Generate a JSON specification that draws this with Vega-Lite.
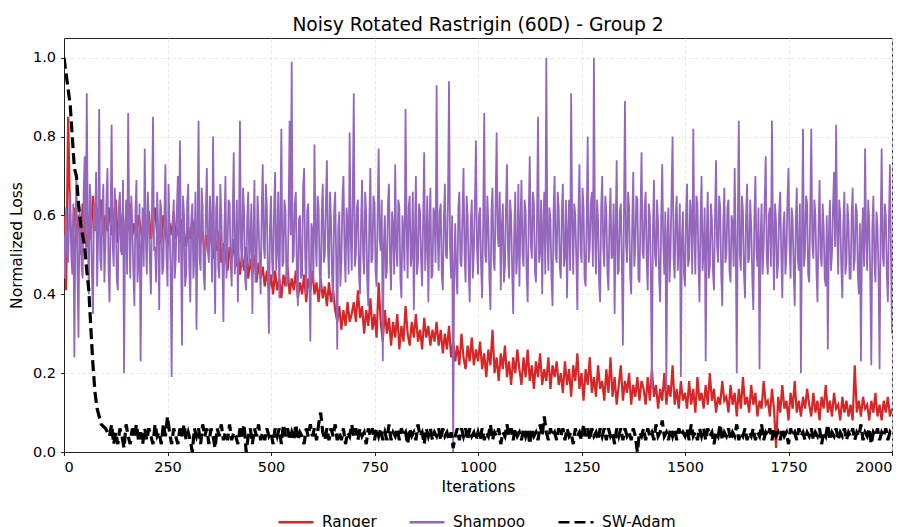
{
"$schema": "https://vega.github.io/schema/vega-lite/v6.json",
"width": 828, "height": 414,
"autosize": "none",
"padding": {"left": 64, "top": 38, "right": 20, "bottom": 75},
"title": {"text": "Noisy Rotated Rastrigin (60D) - Group 2", "fontSize": 18.7, "font": "DejaVu Sans", "fontWeight": "normal", "color": "#000", "offset": 3},
"config": {
 "font": "DejaVu Sans",
 "view": {"stroke": "#222", "strokeWidth": 1},
 "axis": {"labelFont": "DejaVu Sans", "titleFont": "DejaVu Sans", "labelFontSize": 14.5, "titleFontSize": 15.5, "titleFontWeight": "normal", "labelColor": "#000", "titleColor": "#000", "tickColor": "#222", "domainColor": "#222", "tickSize": 3.5, "labelPadding": 4.5, "grid": true, "gridColor": "#e4e4e4", "gridDash": [4, 2], "gridWidth": 0.8},
 "legend": {"labelFont": "DejaVu Sans", "labelFontSize": 15.3, "labelColor": "#000"}
},
"datasets": {
"ra": [
{"x":0,"r":0.60,"a":1.00},{"x":5,"r":0.41,"a":0.96},{"x":10,"r":0.85,"a":0.92},{"x":15,"r":0.58,"a":0.88},{"x":20,"r":0.52,"a":0.80},{"x":25,"r":0.62,"a":0.72},{"x":30,"r":0.55,"a":0.70},{"x":35,"r":0.60,"a":0.63},{"x":40,"r":0.50,"a":0.58},{"x":45,"r":0.63,"a":0.55},{"x":50,"r":0.56,"a":0.52},{"x":55,"r":0.52,"a":0.46},{"x":60,"r":0.60,"a":0.41},{"x":65,"r":0.54,"a":0.31},{"x":70,"r":0.65,"a":0.22},{"x":75,"r":0.57,"a":0.15},{"x":80,"r":0.62,"a":0.11},{"x":85,"r":0.58,"a":0.09},{"x":90,"r":0.64,"a":0.07},{"x":95,"r":0.55,"a":0.065},
{"x":100,"r":0.60,"a":0.06},{"x":105,"r":0.56,"a":0.05},{"x":110,"r":0.62,"a":0.04},{"x":115,"r":0.55,"a":0.07},{"x":120,"r":0.59,"a":0.02},{"x":125,"r":0.64,"a":0.05},{"x":130,"r":0.53,"a":0.02},{"x":135,"r":0.61,"a":0.06},{"x":140,"r":0.57,"a":0.04},{"x":145,"r":0.52,"a":0.01},{"x":150,"r":0.60,"a":0.07},{"x":155,"r":0.56,"a":0.04},{"x":160,"r":0.63,"a":0.02},{"x":165,"r":0.55,"a":0.06},{"x":170,"r":0.58,"a":0.04},{"x":175,"r":0.54,"a":0.07},{"x":180,"r":0.60,"a":0.03},{"x":185,"r":0.57,"a":0.05},{"x":190,"r":0.53,"a":0.02},{"x":195,"r":0.59,"a":0.06},
{"x":200,"r":0.56,"a":0.03},{"x":205,"r":0.61,"a":0.06},{"x":210,"r":0.54,"a":0.04},{"x":215,"r":0.58,"a":0.02},{"x":220,"r":0.62,"a":0.07},{"x":225,"r":0.55,"a":0.04},{"x":230,"r":0.57,"a":0.05},{"x":235,"r":0.53,"a":0.02},{"x":240,"r":0.60,"a":0.07},{"x":245,"r":0.56,"a":0.04},{"x":250,"r":0.52,"a":0.09},{"x":255,"r":0.58,"a":0.05},{"x":260,"r":0.55,"a":0.02},{"x":265,"r":0.61,"a":0.06},{"x":270,"r":0.54,"a":0.04},{"x":275,"r":0.57,"a":0.02},{"x":280,"r":0.53,"a":0.06},{"x":285,"r":0.59,"a":0.04},{"x":290,"r":0.56,"a":0.07},{"x":295,"r":0.52,"a":0.03},
{"x":300,"r":0.57,"a":0.05},{"x":305,"r":0.54,"a":0.03},{"x":310,"r":0.59,"a":0.00},{"x":315,"r":0.55,"a":0.06},{"x":320,"r":0.51,"a":0.04},{"x":325,"r":0.58,"a":0.06},{"x":330,"r":0.53,"a":0.02},{"x":335,"r":0.56,"a":0.07},{"x":340,"r":0.50,"a":0.04},{"x":345,"r":0.55,"a":0.06},{"x":350,"r":0.52,"a":0.02},{"x":355,"r":0.57,"a":0.06},{"x":360,"r":0.49,"a":0.04},{"x":365,"r":0.54,"a":0.01},{"x":370,"r":0.51,"a":0.06},{"x":375,"r":0.56,"a":0.04},{"x":380,"r":0.48,"a":0.07},{"x":385,"r":0.53,"a":0.03},{"x":390,"r":0.50,"a":0.05},{"x":395,"r":0.46,"a":0.03},
{"x":400,"r":0.52,"a":0.07},{"x":405,"r":0.48,"a":0.03},{"x":410,"r":0.54,"a":0.05},{"x":415,"r":0.47,"a":0.04},{"x":420,"r":0.51,"a":0.02},{"x":425,"r":0.45,"a":0.06},{"x":430,"r":0.50,"a":0.04},{"x":435,"r":0.46,"a":0.07},{"x":440,"r":0.52,"a":0.00},{"x":445,"r":0.44,"a":0.04},{"x":450,"r":0.49,"a":0.06},{"x":455,"r":0.45,"a":0.02},{"x":460,"r":0.50,"a":0.06},{"x":465,"r":0.43,"a":0.04},{"x":470,"r":0.48,"a":0.07},{"x":475,"r":0.44,"a":0.03},{"x":480,"r":0.47,"a":0.05},{"x":485,"r":0.42,"a":0.03},{"x":490,"r":0.46,"a":0.06},{"x":495,"r":0.41,"a":0.04},
{"x":500,"r":0.45,"a":0.05},{"x":505,"r":0.40,"a":0.02},{"x":510,"r":0.46,"a":0.06},{"x":515,"r":0.41,"a":0.04},{"x":520,"r":0.44,"a":0.06},{"x":525,"r":0.39,"a":0.02},{"x":530,"r":0.45,"a":0.07},{"x":535,"r":0.42,"a":0.04},{"x":540,"r":0.47,"a":0.06},{"x":545,"r":0.40,"a":0.03},{"x":550,"r":0.44,"a":0.05},{"x":555,"r":0.41,"a":0.03},{"x":560,"r":0.46,"a":0.07},{"x":565,"r":0.39,"a":0.03},{"x":570,"r":0.43,"a":0.05},{"x":575,"r":0.40,"a":0.04},{"x":580,"r":0.45,"a":0.02},{"x":585,"r":0.38,"a":0.06},{"x":590,"r":0.44,"a":0.04},{"x":595,"r":0.41,"a":0.07},
{"x":600,"r":0.46,"a":0.04},{"x":605,"r":0.40,"a":0.06},{"x":610,"r":0.43,"a":0.03},{"x":615,"r":0.38,"a":0.07},{"x":620,"r":0.44,"a":0.10},{"x":625,"r":0.39,"a":0.05},{"x":630,"r":0.42,"a":0.03},{"x":635,"r":0.37,"a":0.06},{"x":640,"r":0.43,"a":0.03},{"x":645,"r":0.38,"a":0.06},{"x":650,"r":0.41,"a":0.04},{"x":655,"r":0.36,"a":0.07},{"x":660,"r":0.33,"a":0.03},{"x":665,"r":0.37,"a":0.05},{"x":670,"r":0.31,"a":0.03},{"x":675,"r":0.36,"a":0.06},{"x":680,"r":0.32,"a":0.02},{"x":685,"r":0.38,"a":0.05},{"x":690,"r":0.33,"a":0.04},{"x":695,"r":0.35,"a":0.07},
{"x":700,"r":0.38,"a":0.04},{"x":705,"r":0.33,"a":0.06},{"x":710,"r":0.41,"a":0.03},{"x":715,"r":0.34,"a":0.06},{"x":720,"r":0.37,"a":0.04},{"x":725,"r":0.30,"a":0.05},{"x":730,"r":0.36,"a":0.02},{"x":735,"r":0.32,"a":0.06},{"x":740,"r":0.39,"a":0.04},{"x":745,"r":0.31,"a":0.06},{"x":750,"r":0.35,"a":0.03},{"x":755,"r":0.29,"a":0.06},{"x":760,"r":0.43,"a":0.04},{"x":765,"r":0.33,"a":0.06},{"x":770,"r":0.28,"a":0.03},{"x":775,"r":0.36,"a":0.05},{"x":780,"r":0.30,"a":0.03},{"x":785,"r":0.34,"a":0.07},{"x":790,"r":0.27,"a":0.03},{"x":795,"r":0.33,"a":0.05},
{"x":800,"r":0.29,"a":0.04},{"x":805,"r":0.35,"a":0.06},{"x":810,"r":0.26,"a":0.03},{"x":815,"r":0.32,"a":0.06},{"x":820,"r":0.28,"a":0.04},{"x":825,"r":0.37,"a":0.05},{"x":830,"r":0.30,"a":0.02},{"x":835,"r":0.27,"a":0.06},{"x":840,"r":0.33,"a":0.04},{"x":845,"r":0.29,"a":0.05},{"x":850,"r":0.35,"a":0.03},{"x":855,"r":0.28,"a":0.07},{"x":860,"r":0.31,"a":0.04},{"x":865,"r":0.26,"a":0.05},{"x":870,"r":0.34,"a":0.02},{"x":875,"r":0.29,"a":0.06},{"x":880,"r":0.32,"a":0.04},{"x":885,"r":0.27,"a":0.06},{"x":890,"r":0.31,"a":0.03},{"x":895,"r":0.28,"a":0.05},
{"x":900,"r":0.33,"a":0.04},{"x":905,"r":0.27,"a":0.06},{"x":910,"r":0.31,"a":0.03},{"x":915,"r":0.25,"a":0.06},{"x":920,"r":0.30,"a":0.04},{"x":925,"r":0.26,"a":0.05},{"x":930,"r":0.32,"a":0.03},{"x":935,"r":0.24,"a":0.05},{"x":940,"r":0.28,"a":0.01},{"x":945,"r":0.23,"a":0.04},{"x":950,"r":0.27,"a":0.06},{"x":955,"r":0.22,"a":0.03},{"x":960,"r":0.30,"a":0.06},{"x":965,"r":0.24,"a":0.04},{"x":970,"r":0.21,"a":0.06},{"x":975,"r":0.27,"a":0.03},{"x":980,"r":0.23,"a":0.06},{"x":985,"r":0.29,"a":0.04},{"x":990,"r":0.22,"a":0.05},{"x":995,"r":0.26,"a":0.03},
{"x":1000,"r":0.23,"a":0.05},{"x":1005,"r":0.28,"a":0.03},{"x":1010,"r":0.21,"a":0.06},{"x":1015,"r":0.25,"a":0.03},{"x":1020,"r":0.19,"a":0.05},{"x":1025,"r":0.26,"a":0.04},{"x":1030,"r":0.22,"a":0.07},{"x":1035,"r":0.31,"a":0.03},{"x":1040,"r":0.20,"a":0.05},{"x":1045,"r":0.24,"a":0.04},{"x":1050,"r":0.18,"a":0.06},{"x":1055,"r":0.25,"a":0.02},{"x":1060,"r":0.21,"a":0.05},{"x":1065,"r":0.27,"a":0.04},{"x":1070,"r":0.19,"a":0.07},{"x":1075,"r":0.23,"a":0.04},{"x":1080,"r":0.17,"a":0.06},{"x":1085,"r":0.24,"a":0.03},{"x":1090,"r":0.20,"a":0.06},{"x":1095,"r":0.26,"a":0.04},
{"x":1100,"r":0.21,"a":0.05},{"x":1105,"r":0.17,"a":0.03},{"x":1110,"r":0.24,"a":0.06},{"x":1115,"r":0.19,"a":0.04},{"x":1120,"r":0.26,"a":0.06},{"x":1125,"r":0.18,"a":0.02},{"x":1130,"r":0.22,"a":0.06},{"x":1135,"r":0.16,"a":0.04},{"x":1140,"r":0.23,"a":0.05},{"x":1145,"r":0.19,"a":0.03},{"x":1150,"r":0.25,"a":0.07},{"x":1155,"r":0.17,"a":0.04},{"x":1160,"r":0.21,"a":0.09},{"x":1165,"r":0.18,"a":0.05},{"x":1170,"r":0.24,"a":0.03},{"x":1175,"r":0.16,"a":0.06},{"x":1180,"r":0.22,"a":0.04},{"x":1185,"r":0.19,"a":0.05},{"x":1190,"r":0.23,"a":0.03},{"x":1195,"r":0.17,"a":0.06},
{"x":1200,"r":0.20,"a":0.04},{"x":1205,"r":0.15,"a":0.06},{"x":1210,"r":0.23,"a":0.03},{"x":1215,"r":0.17,"a":0.06},{"x":1220,"r":0.21,"a":0.04},{"x":1225,"r":0.14,"a":0.05},{"x":1230,"r":0.22,"a":0.02},{"x":1235,"r":0.18,"a":0.06},{"x":1240,"r":0.25,"a":0.04},{"x":1245,"r":0.16,"a":0.05},{"x":1250,"r":0.20,"a":0.03},{"x":1255,"r":0.13,"a":0.07},{"x":1260,"r":0.21,"a":0.04},{"x":1265,"r":0.17,"a":0.06},{"x":1270,"r":0.24,"a":0.03},{"x":1275,"r":0.15,"a":0.06},{"x":1280,"r":0.19,"a":0.04},{"x":1285,"r":0.14,"a":0.05},{"x":1290,"r":0.22,"a":0.03},{"x":1295,"r":0.16,"a":0.06},
{"x":1300,"r":0.18,"a":0.04},{"x":1305,"r":0.13,"a":0.06},{"x":1310,"r":0.21,"a":0.03},{"x":1315,"r":0.15,"a":0.06},{"x":1320,"r":0.24,"a":0.04},{"x":1325,"r":0.14,"a":0.05},{"x":1330,"r":0.19,"a":0.02},{"x":1335,"r":0.12,"a":0.06},{"x":1340,"r":0.17,"a":0.04},{"x":1345,"r":0.22,"a":0.06},{"x":1350,"r":0.13,"a":0.03},{"x":1355,"r":0.18,"a":0.06},{"x":1360,"r":0.15,"a":0.04},{"x":1365,"r":0.20,"a":0.05},{"x":1370,"r":0.12,"a":0.03},{"x":1375,"r":0.17,"a":0.06},{"x":1380,"r":0.14,"a":0.04},{"x":1385,"r":0.19,"a":0.00},{"x":1390,"r":0.13,"a":0.05},{"x":1395,"r":0.18,"a":0.04},
{"x":1400,"r":0.16,"a":0.06},{"x":1405,"r":0.12,"a":0.03},{"x":1410,"r":0.19,"a":0.06},{"x":1415,"r":0.13,"a":0.04},{"x":1420,"r":0.21,"a":0.05},{"x":1425,"r":0.14,"a":0.03},{"x":1430,"r":0.17,"a":0.07},{"x":1435,"r":0.11,"a":0.04},{"x":1440,"r":0.16,"a":0.05},{"x":1445,"r":0.13,"a":0.08},{"x":1450,"r":0.20,"a":0.04},{"x":1455,"r":0.12,"a":0.05},{"x":1460,"r":0.17,"a":0.03},{"x":1465,"r":0.14,"a":0.06},{"x":1470,"r":0.22,"a":0.04},{"x":1475,"r":0.12,"a":0.06},{"x":1480,"r":0.16,"a":0.03},{"x":1485,"r":0.11,"a":0.06},{"x":1490,"r":0.18,"a":0.04},{"x":1495,"r":0.13,"a":0.05},
{"x":1500,"r":0.15,"a":0.04},{"x":1505,"r":0.11,"a":0.06},{"x":1510,"r":0.18,"a":0.03},{"x":1515,"r":0.12,"a":0.07},{"x":1520,"r":0.16,"a":0.04},{"x":1525,"r":0.10,"a":0.05},{"x":1530,"r":0.19,"a":0.03},{"x":1535,"r":0.13,"a":0.06},{"x":1540,"r":0.15,"a":0.04},{"x":1545,"r":0.11,"a":0.06},{"x":1550,"r":0.17,"a":0.03},{"x":1555,"r":0.12,"a":0.06},{"x":1560,"r":0.20,"a":0.04},{"x":1565,"r":0.13,"a":0.05},{"x":1570,"r":0.16,"a":0.02},{"x":1575,"r":0.10,"a":0.05},{"x":1580,"r":0.14,"a":0.04},{"x":1585,"r":0.12,"a":0.07},{"x":1590,"r":0.18,"a":0.03},{"x":1595,"r":0.13,"a":0.05},
{"x":1600,"r":0.14,"a":0.04},{"x":1605,"r":0.10,"a":0.06},{"x":1610,"r":0.17,"a":0.03},{"x":1615,"r":0.12,"a":0.05},{"x":1620,"r":0.15,"a":0.04},{"x":1625,"r":0.09,"a":0.07},{"x":1630,"r":0.16,"a":0.03},{"x":1635,"r":0.11,"a":0.05},{"x":1640,"r":0.19,"a":0.04},{"x":1645,"r":0.12,"a":0.06},{"x":1650,"r":0.14,"a":0.03},{"x":1655,"r":0.10,"a":0.05},{"x":1660,"r":0.17,"a":0.04},{"x":1665,"r":0.12,"a":0.06},{"x":1670,"r":0.15,"a":0.03},{"x":1675,"r":0.09,"a":0.05},{"x":1680,"r":0.13,"a":0.04},{"x":1685,"r":0.11,"a":0.07},{"x":1690,"r":0.18,"a":0.03},{"x":1695,"r":0.12,"a":0.05},
{"x":1700,"r":0.13,"a":0.04},{"x":1705,"r":0.09,"a":0.06},{"x":1710,"r":0.16,"a":0.03},{"x":1715,"r":0.11,"a":0.06},{"x":1720,"r":0.01,"a":0.04},{"x":1725,"r":0.14,"a":0.05},{"x":1730,"r":0.10,"a":0.03},{"x":1735,"r":0.17,"a":0.06},{"x":1740,"r":0.11,"a":0.04},{"x":1745,"r":0.13,"a":0.05},{"x":1750,"r":0.08,"a":0.02},{"x":1755,"r":0.15,"a":0.06},{"x":1760,"r":0.11,"a":0.04},{"x":1765,"r":0.18,"a":0.05},{"x":1770,"r":0.10,"a":0.03},{"x":1775,"r":0.13,"a":0.06},{"x":1780,"r":0.09,"a":0.04},{"x":1785,"r":0.14,"a":0.05},{"x":1790,"r":0.11,"a":0.03},{"x":1795,"r":0.16,"a":0.05},
{"x":1800,"r":0.12,"a":0.04},{"x":1805,"r":0.09,"a":0.06},{"x":1810,"r":0.15,"a":0.03},{"x":1815,"r":0.10,"a":0.05},{"x":1820,"r":0.13,"a":0.04},{"x":1825,"r":0.08,"a":0.06},{"x":1830,"r":0.14,"a":0.02},{"x":1835,"r":0.11,"a":0.05},{"x":1840,"r":0.17,"a":0.04},{"x":1845,"r":0.10,"a":0.07},{"x":1850,"r":0.13,"a":0.03},{"x":1855,"r":0.09,"a":0.05},{"x":1860,"r":0.15,"a":0.04},{"x":1865,"r":0.11,"a":0.06},{"x":1870,"r":0.12,"a":0.03},{"x":1875,"r":0.08,"a":0.05},{"x":1880,"r":0.14,"a":0.04},{"x":1885,"r":0.10,"a":0.06},{"x":1890,"r":0.13,"a":0.03},{"x":1895,"r":0.09,"a":0.05},
{"x":1900,"r":0.12,"a":0.04},{"x":1905,"r":0.08,"a":0.06},{"x":1910,"r":0.22,"a":0.03},{"x":1915,"r":0.10,"a":0.05},{"x":1920,"r":0.13,"a":0.04},{"x":1925,"r":0.09,"a":0.07},{"x":1930,"r":0.14,"a":0.03},{"x":1935,"r":0.11,"a":0.05},{"x":1940,"r":0.12,"a":0.04},{"x":1945,"r":0.08,"a":0.06},{"x":1950,"r":0.13,"a":0.02},{"x":1955,"r":0.10,"a":0.05},{"x":1960,"r":0.15,"a":0.04},{"x":1965,"r":0.09,"a":0.06},{"x":1970,"r":0.12,"a":0.03},{"x":1975,"r":0.08,"a":0.05},{"x":1980,"r":0.13,"a":0.04},{"x":1985,"r":0.10,"a":0.06},{"x":1990,"r":0.14,"a":0.03},{"x":1995,"r":0.09,"a":0.05},{"x":2000,"r":0.11,"a":0.04}
],
"sh": [
{"x":0,"p":0.55},{"x":2.5,"p":0.44},{"x":5,"p":0.62},{"x":7.5,"p":0.52},{"x":10,"p":0.48},{"x":12.5,"p":0.60},{"x":15,"p":0.66},{"x":17.5,"p":0.50},{"x":20,"p":0.45},{"x":22.5,"p":0.63},{"x":25,"p":0.24},{"x":27.5,"p":0.55},{"x":30,"p":0.70},{"x":32.5,"p":0.46},{"x":35,"p":0.29},{"x":37.5,"p":0.61},{"x":40,"p":0.58},{"x":42.5,"p":0.47},{"x":45,"p":0.44},{"x":47.5,"p":0.66},{"x":50,"p":0.75},{"x":52.5,"p":0.50},{"x":55,"p":0.91},{"x":57.5,"p":0.56},{"x":60,"p":0.40},{"x":62.5,"p":0.68},{"x":65,"p":0.62},{"x":67.5,"p":0.45},{"x":70,"p":0.35},{"x":72.5,"p":0.63},{"x":75,"p":0.56},{"x":77.5,"p":0.71},{"x":80,"p":0.42},{"x":82.5,"p":0.55},{"x":85,"p":0.87},{"x":87.5,"p":0.49},{"x":90,"p":0.46},{"x":92.5,"p":0.60},{"x":95,"p":0.68},{"x":97.5,"p":0.43},
{"x":100,"p":0.52},{"x":102.5,"p":0.64},{"x":105,"p":0.72},{"x":107.5,"p":0.47},{"x":110,"p":0.38},{"x":112.5,"p":0.59},{"x":115,"p":0.83},{"x":117.5,"p":0.53},{"x":120,"p":0.47},{"x":122.5,"p":0.67},{"x":125,"p":0.60},{"x":127.5,"p":0.44},{"x":130,"p":0.41},{"x":132.5,"p":0.62},{"x":135,"p":0.66},{"x":137.5,"p":0.51},{"x":140,"p":0.50},{"x":142.5,"p":0.69},{"x":145,"p":0.20},{"x":147.5,"p":0.55},{"x":150,"p":0.64},{"x":152.5,"p":0.45},{"x":155,"p":0.86},{"x":157.5,"p":0.58},{"x":160,"p":0.44},{"x":162.5,"p":0.65},{"x":165,"p":0.58},{"x":167.5,"p":0.46},{"x":170,"p":0.37},{"x":172.5,"p":0.61},{"x":175,"p":0.69},{"x":177.5,"p":0.43},{"x":180,"p":0.48},{"x":182.5,"p":0.63},{"x":185,"p":0.23},{"x":187.5,"p":0.52},{"x":190,"p":0.62},{"x":192.5,"p":0.47},{"x":195,"p":0.77},{"x":197.5,"p":0.55},
{"x":200,"p":0.45},{"x":202.5,"p":0.66},{"x":205,"p":0.59},{"x":207.5,"p":0.48},{"x":210,"p":0.40},{"x":212.5,"p":0.62},{"x":215,"p":0.85},{"x":217.5,"p":0.51},{"x":220,"p":0.52},{"x":222.5,"p":0.43},{"x":225,"p":0.66},{"x":227.5,"p":0.57},{"x":230,"p":0.36},{"x":232.5,"p":0.64},{"x":235,"p":0.61},{"x":237.5,"p":0.45},{"x":240,"p":0.47},{"x":242.5,"p":0.60},{"x":245,"p":0.73},{"x":247.5,"p":0.50},{"x":250,"p":0.42},{"x":252.5,"p":0.68},{"x":255,"p":0.57},{"x":257.5,"p":0.46},{"x":260,"p":0.19},{"x":262.5,"p":0.58},{"x":265,"p":0.64},{"x":267.5,"p":0.44},{"x":270,"p":0.49},{"x":272.5,"p":0.61},{"x":275,"p":0.70},{"x":277.5,"p":0.48},{"x":280,"p":0.79},{"x":282.5,"p":0.54},{"x":285,"p":0.27},{"x":287.5,"p":0.65},{"x":290,"p":0.60},{"x":292.5,"p":0.42},{"x":295,"p":0.45},{"x":297.5,"p":0.63},
{"x":300,"p":0.68},{"x":302.5,"p":0.47},{"x":305,"p":0.38},{"x":307.5,"p":0.59},{"x":310,"p":0.63},{"x":312.5,"p":0.44},{"x":315,"p":0.50},{"x":317.5,"p":0.66},{"x":320,"p":0.31},{"x":322.5,"p":0.56},{"x":325,"p":0.84},{"x":327.5,"p":0.49},{"x":330,"p":0.46},{"x":332.5,"p":0.67},{"x":335,"p":0.62},{"x":337.5,"p":0.45},{"x":340,"p":0.41},{"x":342.5,"p":0.60},{"x":345,"p":0.72},{"x":347.5,"p":0.51},{"x":350,"p":0.48},{"x":352.5,"p":0.65},{"x":355,"p":0.58},{"x":357.5,"p":0.43},{"x":360,"p":0.80},{"x":362.5,"p":0.55},{"x":365,"p":0.35},{"x":367.5,"p":0.62},{"x":370,"p":0.65},{"x":372.5,"p":0.47},{"x":375,"p":0.44},{"x":377.5,"p":0.68},{"x":380,"p":0.60},{"x":382.5,"p":0.49},{"x":385,"p":0.33},{"x":387.5,"p":0.57},{"x":390,"p":0.70},{"x":392.5,"p":0.44},{"x":395,"p":0.52},{"x":397.5,"p":0.64},
{"x":400,"p":0.63},{"x":402.5,"p":0.48},{"x":405,"p":0.42},{"x":407.5,"p":0.60},{"x":410,"p":0.76},{"x":412.5,"p":0.45},{"x":415,"p":0.50},{"x":417.5,"p":0.64},{"x":420,"p":0.38},{"x":422.5,"p":0.56},{"x":425,"p":0.84},{"x":427.5,"p":0.52},{"x":430,"p":0.47},{"x":432.5,"p":0.67},{"x":435,"p":0.61},{"x":437.5,"p":0.44},{"x":440,"p":0.41},{"x":442.5,"p":0.59},{"x":445,"p":0.66},{"x":447.5,"p":0.47},{"x":450,"p":0.53},{"x":452.5,"p":0.63},{"x":455,"p":0.35},{"x":457.5,"p":0.55},{"x":460,"p":0.69},{"x":462.5,"p":0.43},{"x":465,"p":0.46},{"x":467.5,"p":0.65},{"x":470,"p":0.58},{"x":472.5,"p":0.48},{"x":475,"p":0.40},{"x":477.5,"p":0.61},{"x":480,"p":0.73},{"x":482.5,"p":0.52},{"x":485,"p":0.49},{"x":487.5,"p":0.68},{"x":490,"p":0.62},{"x":492.5,"p":0.45},{"x":495,"p":0.30},{"x":497.5,"p":0.57},
{"x":500,"p":0.65},{"x":502.5,"p":0.49},{"x":505,"p":0.44},{"x":507.5,"p":0.62},{"x":510,"p":0.71},{"x":512.5,"p":0.46},{"x":515,"p":0.52},{"x":517.5,"p":0.66},{"x":520,"p":0.39},{"x":522.5,"p":0.58},{"x":525,"p":0.82},{"x":527.5,"p":0.47},{"x":530,"p":0.48},{"x":532.5,"p":0.64},{"x":535,"p":0.61},{"x":537.5,"p":0.42},{"x":540,"p":0.43},{"x":542.5,"p":0.60},{"x":545,"p":0.84},{"x":547.5,"p":0.55},{"x":550,"p":0.99},{"x":552.5,"p":0.48},{"x":555,"p":0.50},{"x":557.5,"p":0.63},{"x":560,"p":0.66},{"x":562.5,"p":0.45},{"x":565,"p":0.37},{"x":567.5,"p":0.59},{"x":570,"p":0.60},{"x":572.5,"p":0.44},{"x":575,"p":0.45},{"x":577.5,"p":0.67},{"x":580,"p":0.72},{"x":582.5,"p":0.50},{"x":585,"p":0.40},{"x":587.5,"p":0.61},{"x":590,"p":0.63},{"x":592.5,"p":0.46},{"x":595,"p":0.28},{"x":597.5,"p":0.58},
{"x":600,"p":0.56},{"x":602.5,"p":0.43},{"x":605,"p":0.78},{"x":607.5,"p":0.55},{"x":610,"p":0.47},{"x":612.5,"p":0.65},{"x":615,"p":0.62},{"x":617.5,"p":0.46},{"x":620,"p":0.41},{"x":622.5,"p":0.60},{"x":625,"p":0.68},{"x":627.5,"p":0.48},{"x":630,"p":0.50},{"x":632.5,"p":0.63},{"x":635,"p":0.74},{"x":637.5,"p":0.52},{"x":640,"p":0.44},{"x":642.5,"p":0.66},{"x":645,"p":0.59},{"x":647.5,"p":0.45},{"x":650,"p":0.38},{"x":652.5,"p":0.61},{"x":655,"p":0.66},{"x":657.5,"p":0.49},{"x":660,"p":0.26},{"x":662.5,"p":0.57},{"x":665,"p":0.61},{"x":667.5,"p":0.42},{"x":670,"p":0.48},{"x":672.5,"p":0.64},{"x":675,"p":0.70},{"x":677.5,"p":0.51},{"x":680,"p":0.43},{"x":682.5,"p":0.62},{"x":685,"p":0.58},{"x":687.5,"p":0.45},{"x":690,"p":0.81},{"x":692.5,"p":0.55},{"x":695,"p":0.46},{"x":697.5,"p":0.65},
{"x":700,"p":0.91},{"x":702.5,"p":0.47},{"x":705,"p":0.50},{"x":707.5,"p":0.62},{"x":710,"p":0.64},{"x":712.5,"p":0.45},{"x":715,"p":0.40},{"x":717.5,"p":0.58},{"x":720,"p":0.69},{"x":722.5,"p":0.50},{"x":725,"p":0.45},{"x":727.5,"p":0.66},{"x":730,"p":0.60},{"x":732.5,"p":0.43},{"x":735,"p":0.37},{"x":737.5,"p":0.59},{"x":740,"p":0.72},{"x":742.5,"p":0.48},{"x":745,"p":0.49},{"x":747.5,"p":0.65},{"x":750,"p":0.63},{"x":752.5,"p":0.46},{"x":755,"p":0.42},{"x":757.5,"p":0.60},{"x":760,"p":0.77},{"x":762.5,"p":0.54},{"x":765,"p":0.51},{"x":767.5,"p":0.64},{"x":770,"p":0.23},{"x":772.5,"p":0.52},{"x":775,"p":0.60},{"x":777.5,"p":0.44},{"x":780,"p":0.46},{"x":782.5,"p":0.63},{"x":785,"p":0.68},{"x":787.5,"p":0.49},{"x":790,"p":0.41},{"x":792.5,"p":0.61},{"x":795,"p":0.57},{"x":797.5,"p":0.45},
{"x":800,"p":0.73},{"x":802.5,"p":0.52},{"x":805,"p":0.47},{"x":807.5,"p":0.64},{"x":810,"p":0.62},{"x":812.5,"p":0.44},{"x":815,"p":0.39},{"x":817.5,"p":0.60},{"x":820,"p":0.55},{"x":822.5,"p":0.46},{"x":825,"p":0.87},{"x":827.5,"p":0.58},{"x":830,"p":0.44},{"x":832.5,"p":0.62},{"x":835,"p":0.65},{"x":837.5,"p":0.47},{"x":840,"p":0.50},{"x":842.5,"p":0.66},{"x":845,"p":0.36},{"x":847.5,"p":0.55},{"x":850,"p":0.70},{"x":852.5,"p":0.45},{"x":855,"p":0.48},{"x":857.5,"p":0.63},{"x":860,"p":0.61},{"x":862.5,"p":0.49},{"x":865,"p":0.42},{"x":867.5,"p":0.59},{"x":870,"p":0.76},{"x":872.5,"p":0.46},{"x":875,"p":0.53},{"x":877.5,"p":0.65},{"x":880,"p":0.38},{"x":882.5,"p":0.57},{"x":885,"p":0.67},{"x":887.5,"p":0.44},{"x":890,"p":0.45},{"x":892.5,"p":0.62},{"x":895,"p":0.60},{"x":897.5,"p":0.48},
{"x":900,"p":0.93},{"x":902.5,"p":0.55},{"x":905,"p":0.46},{"x":907.5,"p":0.61},{"x":910,"p":0.63},{"x":912.5,"p":0.45},{"x":915,"p":0.41},{"x":917.5,"p":0.59},{"x":920,"p":0.68},{"x":922.5,"p":0.50},{"x":925,"p":0.49},{"x":927.5,"p":0.64},{"x":930,"p":0.94},{"x":932.5,"p":0.52},{"x":935,"p":0.44},{"x":937.5,"p":0.60},{"x":940,"p":0.00},{"x":942.5,"p":0.47},{"x":945,"p":0.58},{"x":947.5,"p":0.45},{"x":950,"p":0.40},{"x":952.5,"p":0.62},{"x":955,"p":0.66},{"x":957.5,"p":0.48},{"x":960,"p":0.47},{"x":962.5,"p":0.60},{"x":965,"p":0.72},{"x":967.5,"p":0.50},{"x":970,"p":0.43},{"x":972.5,"p":0.65},{"x":975,"p":0.60},{"x":977.5,"p":0.46},{"x":980,"p":0.38},{"x":982.5,"p":0.58},{"x":985,"p":0.64},{"x":987.5,"p":0.44},{"x":990,"p":0.51},{"x":992.5,"p":0.63},{"x":995,"p":0.79},{"x":997.5,"p":0.52},
{"x":1000,"p":0.45},{"x":1002.5,"p":0.60},{"x":1005,"p":0.62},{"x":1007.5,"p":0.47},{"x":1010,"p":0.39},{"x":1012.5,"p":0.58},{"x":1015,"p":0.86},{"x":1017.5,"p":0.50},{"x":1020,"p":0.48},{"x":1022.5,"p":0.65},{"x":1025,"p":0.58},{"x":1027.5,"p":0.44},{"x":1030,"p":0.36},{"x":1032.5,"p":0.61},{"x":1035,"p":0.67},{"x":1037.5,"p":0.49},{"x":1040,"p":0.46},{"x":1042.5,"p":0.63},{"x":1045,"p":0.81},{"x":1047.5,"p":0.55},{"x":1050,"p":0.52},{"x":1052.5,"p":0.66},{"x":1055,"p":0.41},{"x":1057.5,"p":0.57},{"x":1060,"p":0.63},{"x":1062.5,"p":0.43},{"x":1065,"p":0.47},{"x":1067.5,"p":0.62},{"x":1070,"p":0.73},{"x":1072.5,"p":0.51},{"x":1075,"p":0.44},{"x":1077.5,"p":0.64},{"x":1080,"p":0.60},{"x":1082.5,"p":0.46},{"x":1085,"p":0.35},{"x":1087.5,"p":0.56},{"x":1090,"p":0.66},{"x":1092.5,"p":0.45},{"x":1095,"p":0.50},{"x":1097.5,"p":0.68},
{"x":1100,"p":0.42},{"x":1102.5,"p":0.58},{"x":1105,"p":0.69},{"x":1107.5,"p":0.50},{"x":1110,"p":0.47},{"x":1112.5,"p":0.64},{"x":1115,"p":0.61},{"x":1117.5,"p":0.45},{"x":1120,"p":0.38},{"x":1122.5,"p":0.60},{"x":1125,"p":0.75},{"x":1127.5,"p":0.53},{"x":1130,"p":0.49},{"x":1132.5,"p":0.66},{"x":1135,"p":0.63},{"x":1137.5,"p":0.46},{"x":1140,"p":0.43},{"x":1142.5,"p":0.59},{"x":1145,"p":0.85},{"x":1147.5,"p":0.48},{"x":1150,"p":0.51},{"x":1152.5,"p":0.64},{"x":1155,"p":0.40},{"x":1157.5,"p":0.57},{"x":1160,"p":0.66},{"x":1162.5,"p":0.45},{"x":1165,"p":1.00},{"x":1167.5,"p":0.55},{"x":1170,"p":0.46},{"x":1172.5,"p":0.62},{"x":1175,"p":0.59},{"x":1177.5,"p":0.44},{"x":1180,"p":0.37},{"x":1182.5,"p":0.61},{"x":1185,"p":0.70},{"x":1187.5,"p":0.50},{"x":1190,"p":0.48},{"x":1192.5,"p":0.66},{"x":1195,"p":0.62},{"x":1197.5,"p":0.47},
{"x":1200,"p":0.44},{"x":1202.5,"p":0.61},{"x":1205,"p":0.68},{"x":1207.5,"p":0.47},{"x":1210,"p":0.50},{"x":1212.5,"p":0.64},{"x":1215,"p":0.39},{"x":1217.5,"p":0.56},{"x":1220,"p":0.64},{"x":1222.5,"p":0.46},{"x":1225,"p":0.91},{"x":1227.5,"p":0.58},{"x":1230,"p":0.45},{"x":1232.5,"p":0.63},{"x":1235,"p":0.60},{"x":1237.5,"p":0.49},{"x":1240,"p":0.36},{"x":1242.5,"p":0.60},{"x":1245,"p":0.73},{"x":1247.5,"p":0.52},{"x":1250,"p":0.48},{"x":1252.5,"p":0.67},{"x":1255,"p":0.62},{"x":1257.5,"p":0.44},{"x":1260,"p":0.42},{"x":1262.5,"p":0.59},{"x":1265,"p":0.80},{"x":1267.5,"p":0.48},{"x":1270,"p":0.52},{"x":1272.5,"p":0.63},{"x":1275,"p":0.66},{"x":1277.5,"p":0.47},{"x":1280,"p":1.00},{"x":1282.5,"p":0.56},{"x":1285,"p":0.45},{"x":1287.5,"p":0.64},{"x":1290,"p":0.59},{"x":1292.5,"p":0.43},{"x":1295,"p":0.38},{"x":1297.5,"p":0.62},
{"x":1300,"p":0.70},{"x":1302.5,"p":0.52},{"x":1305,"p":0.47},{"x":1307.5,"p":0.65},{"x":1310,"p":0.61},{"x":1312.5,"p":0.46},{"x":1315,"p":0.41},{"x":1317.5,"p":0.58},{"x":1320,"p":0.67},{"x":1322.5,"p":0.49},{"x":1325,"p":0.50},{"x":1327.5,"p":0.63},{"x":1330,"p":0.35},{"x":1332.5,"p":0.57},{"x":1335,"p":0.74},{"x":1337.5,"p":0.45},{"x":1340,"p":0.46},{"x":1342.5,"p":0.61},{"x":1345,"p":0.63},{"x":1347.5,"p":0.48},{"x":1350,"p":0.27},{"x":1352.5,"p":0.60},{"x":1355,"p":0.89},{"x":1357.5,"p":0.53},{"x":1360,"p":0.48},{"x":1362.5,"p":0.66},{"x":1365,"p":0.62},{"x":1367.5,"p":0.45},{"x":1370,"p":0.40},{"x":1372.5,"p":0.58},{"x":1375,"p":0.71},{"x":1377.5,"p":0.47},{"x":1380,"p":0.52},{"x":1382.5,"p":0.65},{"x":1385,"p":0.64},{"x":1387.5,"p":0.44},{"x":1390,"p":0.43},{"x":1392.5,"p":0.60},{"x":1395,"p":0.76},{"x":1397.5,"p":0.51},
{"x":1400,"p":0.49},{"x":1402.5,"p":0.62},{"x":1405,"p":0.66},{"x":1407.5,"p":0.48},{"x":1410,"p":0.41},{"x":1412.5,"p":0.63},{"x":1415,"p":0.60},{"x":1417.5,"p":0.45},{"x":1420,"p":0.16},{"x":1422.5,"p":0.56},{"x":1425,"p":0.69},{"x":1427.5,"p":0.50},{"x":1430,"p":0.47},{"x":1432.5,"p":0.64},{"x":1435,"p":0.58},{"x":1437.5,"p":0.44},{"x":1440,"p":0.38},{"x":1442.5,"p":0.59},{"x":1445,"p":0.73},{"x":1447.5,"p":0.53},{"x":1450,"p":0.45},{"x":1452.5,"p":0.61},{"x":1455,"p":0.16},{"x":1457.5,"p":0.55},{"x":1460,"p":0.62},{"x":1462.5,"p":0.43},{"x":1465,"p":0.50},{"x":1467.5,"p":0.66},{"x":1470,"p":0.80},{"x":1472.5,"p":0.49},{"x":1475,"p":0.44},{"x":1477.5,"p":0.60},{"x":1480,"p":0.65},{"x":1482.5,"p":0.46},{"x":1485,"p":0.52},{"x":1487.5,"p":0.63},{"x":1490,"p":0.19},{"x":1492.5,"p":0.54},{"x":1495,"p":0.61},{"x":1497.5,"p":0.45},
{"x":1500,"p":0.42},{"x":1502.5,"p":0.60},{"x":1505,"p":0.68},{"x":1507.5,"p":0.47},{"x":1510,"p":0.49},{"x":1512.5,"p":0.64},{"x":1515,"p":0.60},{"x":1517.5,"p":0.45},{"x":1520,"p":0.82},{"x":1522.5,"p":0.56},{"x":1525,"p":0.45},{"x":1527.5,"p":0.65},{"x":1530,"p":0.63},{"x":1532.5,"p":0.48},{"x":1535,"p":0.38},{"x":1537.5,"p":0.59},{"x":1540,"p":0.70},{"x":1542.5,"p":0.46},{"x":1545,"p":0.51},{"x":1547.5,"p":0.62},{"x":1550,"p":0.23},{"x":1552.5,"p":0.55},{"x":1555,"p":0.66},{"x":1557.5,"p":0.44},{"x":1560,"p":0.47},{"x":1562.5,"p":0.63},{"x":1565,"p":0.59},{"x":1567.5,"p":0.46},{"x":1570,"p":0.41},{"x":1572.5,"p":0.60},{"x":1575,"p":0.74},{"x":1577.5,"p":0.52},{"x":1580,"p":0.48},{"x":1582.5,"p":0.65},{"x":1585,"p":0.62},{"x":1587.5,"p":0.45},{"x":1590,"p":0.37},{"x":1592.5,"p":0.58},{"x":1595,"p":0.67},{"x":1597.5,"p":0.48},
{"x":1600,"p":0.50},{"x":1602.5,"p":0.62},{"x":1605,"p":0.64},{"x":1607.5,"p":0.46},{"x":1610,"p":0.43},{"x":1612.5,"p":0.60},{"x":1615,"p":0.58},{"x":1617.5,"p":0.47},{"x":1620,"p":0.72},{"x":1622.5,"p":0.53},{"x":1625,"p":0.20},{"x":1627.5,"p":0.58},{"x":1630,"p":0.84},{"x":1632.5,"p":0.50},{"x":1635,"p":0.46},{"x":1637.5,"p":0.65},{"x":1640,"p":0.61},{"x":1642.5,"p":0.45},{"x":1645,"p":0.39},{"x":1647.5,"p":0.60},{"x":1650,"p":0.68},{"x":1652.5,"p":0.48},{"x":1655,"p":0.49},{"x":1657.5,"p":0.64},{"x":1660,"p":0.57},{"x":1662.5,"p":0.44},{"x":1665,"p":0.36},{"x":1667.5,"p":0.59},{"x":1670,"p":0.70},{"x":1672.5,"p":0.51},{"x":1675,"p":0.47},{"x":1677.5,"p":0.62},{"x":1680,"p":0.21},{"x":1682.5,"p":0.54},{"x":1685,"p":0.63},{"x":1687.5,"p":0.45},{"x":1690,"p":0.52},{"x":1692.5,"p":0.64},{"x":1695,"p":0.75},{"x":1697.5,"p":0.49},
{"x":1700,"p":0.45},{"x":1702.5,"p":0.60},{"x":1705,"p":0.62},{"x":1707.5,"p":0.47},{"x":1710,"p":0.84},{"x":1712.5,"p":0.55},{"x":1715,"p":0.41},{"x":1717.5,"p":0.63},{"x":1720,"p":0.58},{"x":1722.5,"p":0.44},{"x":1725,"p":0.48},{"x":1727.5,"p":0.61},{"x":1730,"p":0.66},{"x":1732.5,"p":0.50},{"x":1735,"p":0.39},{"x":1737.5,"p":0.57},{"x":1740,"p":0.61},{"x":1742.5,"p":0.45},{"x":1745,"p":0.50},{"x":1747.5,"p":0.64},{"x":1750,"p":0.72},{"x":1752.5,"p":0.52},{"x":1755,"p":0.44},{"x":1757.5,"p":0.62},{"x":1760,"p":0.59},{"x":1762.5,"p":0.46},{"x":1765,"p":0.37},{"x":1767.5,"p":0.58},{"x":1770,"p":0.67},{"x":1772.5,"p":0.49},{"x":1775,"p":0.46},{"x":1777.5,"p":0.63},{"x":1780,"p":0.20},{"x":1782.5,"p":0.55},{"x":1785,"p":0.82},{"x":1787.5,"p":0.47},{"x":1790,"p":0.51},{"x":1792.5,"p":0.65},{"x":1795,"p":0.63},{"x":1797.5,"p":0.45},
{"x":1800,"p":0.43},{"x":1802.5,"p":0.61},{"x":1805,"p":0.82},{"x":1807.5,"p":0.53},{"x":1810,"p":0.49},{"x":1812.5,"p":0.64},{"x":1815,"p":0.60},{"x":1817.5,"p":0.46},{"x":1820,"p":0.38},{"x":1822.5,"p":0.57},{"x":1825,"p":0.69},{"x":1827.5,"p":0.50},{"x":1830,"p":0.47},{"x":1832.5,"p":0.63},{"x":1835,"p":0.57},{"x":1837.5,"p":0.44},{"x":1840,"p":0.42},{"x":1842.5,"p":0.60},{"x":1845,"p":0.26},{"x":1847.5,"p":0.55},{"x":1850,"p":0.64},{"x":1852.5,"p":0.46},{"x":1855,"p":0.50},{"x":1857.5,"p":0.62},{"x":1860,"p":0.71},{"x":1862.5,"p":0.52},{"x":1865,"p":0.83},{"x":1867.5,"p":0.56},{"x":1870,"p":0.45},{"x":1872.5,"p":0.64},{"x":1875,"p":0.60},{"x":1877.5,"p":0.47},{"x":1880,"p":0.39},{"x":1882.5,"p":0.58},{"x":1885,"p":0.66},{"x":1887.5,"p":0.45},{"x":1890,"p":0.48},{"x":1892.5,"p":0.63},{"x":1895,"p":0.58},{"x":1897.5,"p":0.44},
{"x":1900,"p":0.44},{"x":1902.5,"p":0.60},{"x":1905,"p":0.67},{"x":1907.5,"p":0.46},{"x":1910,"p":0.49},{"x":1912.5,"p":0.63},{"x":1915,"p":0.61},{"x":1917.5,"p":0.45},{"x":1920,"p":0.40},{"x":1922.5,"p":0.58},{"x":1925,"p":0.23},{"x":1927.5,"p":0.55},{"x":1930,"p":0.62},{"x":1932.5,"p":0.47},{"x":1935,"p":0.77},{"x":1937.5,"p":0.54},{"x":1940,"p":0.46},{"x":1942.5,"p":0.64},{"x":1945,"p":0.58},{"x":1947.5,"p":0.44},{"x":1950,"p":0.22},{"x":1952.5,"p":0.57},{"x":1955,"p":0.65},{"x":1957.5,"p":0.48},{"x":1960,"p":0.43},{"x":1962.5,"p":0.61},{"x":1965,"p":0.57},{"x":1967.5,"p":0.45},{"x":1970,"p":0.21},{"x":1972.5,"p":0.56},{"x":1975,"p":0.77},{"x":1977.5,"p":0.50},{"x":1980,"p":0.47},{"x":1982.5,"p":0.63},{"x":1985,"p":0.60},{"x":1987.5,"p":0.45},{"x":1990,"p":0.38},{"x":1992.5,"p":0.58},{"x":1995,"p":0.73},{"x":1997.5,"p":0.50},{"x":2000,"p":0.30}
]
},
"encoding": {
 "x": {"field": "x", "type": "quantitative", "scale": {"domain": [0, 2000], "nice": false, "zero": false}, "axis": {"title": "Iterations", "values": [0, 250, 500, 750, 1000, 1250, 1500, 1750, 2000], "format": "d", "titlePadding": 6}}
},
"layer": [
 {"data": {"name": "ra"},
  "mark": {"type": "line", "strokeWidth": 2.2, "clip": true},
  "encoding": {
   "y": {"field": "r", "type": "quantitative", "scale": {"domain": [0, 1.05], "nice": false}, "axis": {"title": "Normalized Loss", "values": [0, 0.2, 0.4, 0.6, 0.8, 1.0], "format": ".1f", "labelPadding": 5, "titlePadding": 8}},
   "color": {"datum": "Ranger", "scale": {"domain": ["Ranger", "Shampoo", "SW-Adam"], "range": ["#d62728", "#9467bd", "#000000"]}, "legend": {"title": null, "orient": "none", "direction": "horizontal", "legendX": 213, "legendY": 465, "symbolType": "stroke", "symbolSize": 1225, "symbolStrokeWidth": 2.5, "labelOffset": 7, "columnPadding": 27}},
   "strokeDash": {"datum": "Ranger", "scale": {"domain": ["Ranger", "Shampoo", "SW-Adam"], "range": [[1, 0], [1, 0], [11, 5]]}, "legend": {"title": null, "orient": "none", "direction": "horizontal", "legendX": 213, "legendY": 465, "symbolType": "stroke", "symbolSize": 1225, "symbolStrokeWidth": 2.5, "labelOffset": 7, "columnPadding": 27}}
  }},
 {"data": {"name": "sh"},
  "mark": {"type": "line", "strokeWidth": 1.8, "clip": true},
  "encoding": {
   "y": {"field": "p", "type": "quantitative"},
   "color": {"datum": "Shampoo"},
   "strokeDash": {"datum": "Shampoo"}
  }},
 {"data": {"name": "ra"},
  "mark": {"type": "line", "strokeWidth": 3.2, "clip": true},
  "encoding": {
   "y": {"field": "a", "type": "quantitative"},
   "color": {"datum": "SW-Adam"},
   "strokeDash": {"datum": "SW-Adam"}
  }}
]
}
